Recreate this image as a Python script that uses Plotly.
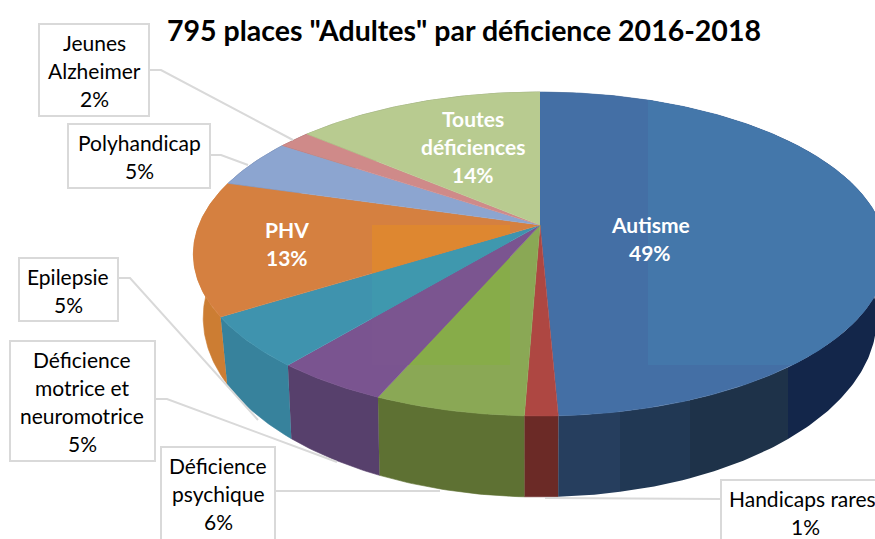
import math
import plotly.graph_objects as go

TITLE = '795 places "Adultes" par déficience 2016-2018'
categories = ["Autisme", "Handicaps rares", "Déficience psychique",
              "Déficience motrice et neuromotrice", "Epilepsie", "PHV",
              "Polyhandicap", "Jeunes Alzheimer", "Toutes déficiences"]
values = [49.3, 1.3, 5.9, 4.5, 5.1, 13.4, 4.9, 1.8, 13.8]
top_colors = ["#446fa5", "#ae4742", "#8aa855", "#7a5490", "#3f93ae",
              "#d58040", "#8ca5d0", "#cf8a89", "#b8cb90"]
side_colors = ["#1f3350", "#6b2a26", "#5e7133", "#57406c", "#37829c",
               "#cc7d33", "#5a6f96", "#8a5a5a", "#7a8a60"]
# slightly shifted tones seen in rectangular patches of the reference
patch_a = (648, 0, 900, 365, {0: "#4477aa"})
patch_b = (372, 225, 510, 365, {2: "#87ac49", 3: "#7b5590", 4: "#3f98ae", 5: "#de8730"})
autisme_wall_bands = [(0, 620, "#263e5e"), (620, 690, "#213854"),
                      (690, 788, "#1e3249"), (788, 900, "#13264a")]

inner_labels = [(["Autisme", "49%"], 650, 224),
                (["PHV", "13%"], 287, 229),
                (["Toutes", "déficiences", "14%"], 473, 118)]
outer_labels = [(["Jeunes", "Alzheimer", "2%"], [94, 94, 94], 42),
                (["Polyhandicap", "5%"], [139, 139], 142),
                (["Epilepsie", "5%"], [68, 68], 276),
                (["Déficience", "motrice et", "neuromotrice", "5%"], [82, 82, 82, 82], 359),
                (["Déficience", "psychique", "6%"], [218, 218, 218], 465),
                (["Handicaps rares", "1%"], [802, 805], 498)]
boxes = [(39, 24, 149, 116), (68, 124, 210, 188), (19, 258, 118, 321),
         (10, 341, 155, 461), (161, 447, 275, 560), (721, 480, 900, 560)]
leaders = [([149, 161, 293], [70, 70, 140]),
           ([210, 221, 248], [155, 155, 165]),
           ([118, 130, 258], [278, 278, 420]),
           ([155, 167, 337], [399, 399, 462]),
           ([275, 440], [491, 491]),
           ([721, 545], [499, 498])]

CX = 540
TOP = dict(a=341, b=156.8, k=0.179, cy=225)
BOT = dict(a=330, b=172, k=0.2, cy=282)


def project(frac, p):
    th = 2 * math.pi * frac
    u, v = math.sin(th), math.cos(th)
    d = 1 + p["k"] * v
    return CX + p["a"] * u / d, p["cy"] - p["b"] * v / d


def arc(f0, f1, p, step=0.002):
    n = max(2, int((f1 - f0) / step) + 1)
    return [project(f0 + (f1 - f0) * i / (n - 1), p) for i in range(n)]


def clip(pts, x0, y0, x1, y1):
    planes = [(0, x0, 1), (0, x1, -1), (1, y0, 1), (1, y1, -1)]
    for ax, lim, sgn in planes:
        out = []
        for i, q in enumerate(pts):
            r = pts[i - 1]
            qi = sgn * (q[ax] - lim) >= 0
            ri = sgn * (r[ax] - lim) >= 0
            if qi != ri:
                t = (lim - r[ax]) / (q[ax] - r[ax])
                out.append((r[0] + t * (q[0] - r[0]), r[1] + t * (q[1] - r[1])))
            if qi:
                out.append(q)
        pts = out
        if not pts:
            break
    return pts


def poly(pts, color, width=0.6):
    return go.Scatter(x=[p[0] for p in pts], y=[p[1] for p in pts],
                      mode="lines", fill="toself", fillcolor=color,
                      line=dict(color=color, width=width),
                      hoverinfo="skip", showlegend=False)


fig = go.Figure()
total = sum(values)
edges = [0]
for val in values:
    edges.append(edges[-1] + val / total)

# outer wall
for i in range(len(values)):
    pts = arc(edges[i], edges[i + 1], TOP) + arc(edges[i], edges[i + 1], BOT)[::-1]
    if i == 0:
        for xa, xb, col in autisme_wall_bands:
            part = clip(pts, xa, 0, xb, 600)
            if part:
                fig.add_trace(poly(part, col, 0))
    else:
        fig.add_trace(poly(pts, side_colors[i]))

# top face
for i in range(len(values)):
    pts = [(CX, TOP["cy"])] + arc(edges[i], edges[i + 1], TOP)
    fig.add_trace(poly(pts, top_colors[i]))
    for x0, y0, x1, y1, tones in (patch_a, patch_b):
        if i in tones:
            part = clip(pts, x0, y0, x1, y1)
            if part:
                fig.add_trace(poly(part, tones[i], 0))

shapes = []
for x, y in leaders:
    path = "M " + " L ".join(f"{a},{b}" for a, b in zip(x, y))
    shapes.append(dict(type="path", path=path, line=dict(color="#d9d9d9", width=2), layer="above"))
for x0, y0, x1, y1 in boxes:
    shapes.append(dict(type="rect", x0=x0, y0=y0, x1=x1, y1=y1, fillcolor="white",
                       line=dict(color="#d9d9d9", width=2), layer="above"))

annotations = []
for lines, x, y in inner_labels:
    for n, s in enumerate(lines):
        annotations.append(dict(x=x, y=y + n * 28, text=f"<b>{s}</b>", showarrow=False,
                                font=dict(family="Lato", size=21, color="white")))
for lines, xs, y in outer_labels:
    for n, s in enumerate(lines):
        annotations.append(dict(x=xs[n], y=y + n * 28, text=s, showarrow=False,
                                font=dict(family="Lato", size=21, color="black")))

fig.update_layout(
    width=875, height=539, autosize=False,
    margin=dict(l=0, r=0, t=0, b=0),
    paper_bgcolor="white", plot_bgcolor="white",
    title=dict(text=f"<b>{TITLE}</b>", x=464 / 875, xanchor="center",
               y=1 - 31 / 539, yanchor="middle",
               font=dict(family="Lato", size=28.5, color="black")),
    xaxis=dict(range=[0, 875], visible=False, fixedrange=True),
    yaxis=dict(range=[539, 0], visible=False, fixedrange=True),
    shapes=shapes, annotations=annotations, showlegend=False,
)
fig.write_html("out.html", config=dict(displayModeBar=False),
               post_script="document.body.style.margin='0';document.body.style.overflow='hidden';")
